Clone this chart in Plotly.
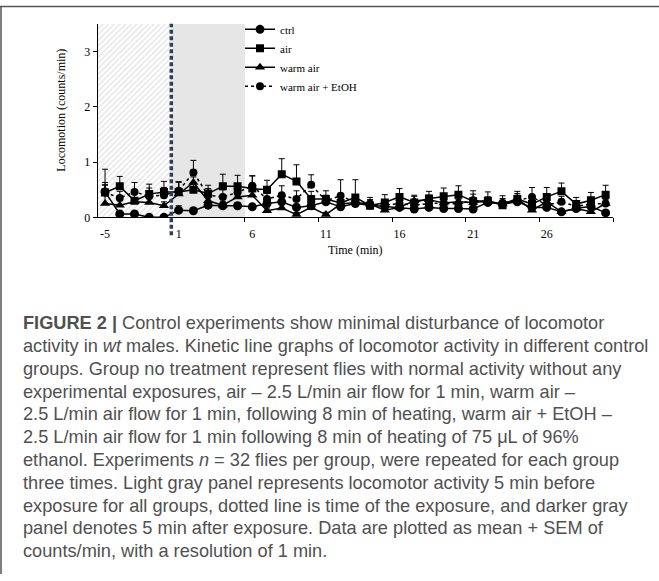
import plotly.graph_objects as go

W, H = 659, 581

# time axis (min); there is no minute 0
minutes = [-5, -4, -3, -2, -1] + list(range(1, 31))

ctrl = [0.46, 0.06, 0.06, 0.00, 0.00, 0.13, 0.12, 0.22, 0.21, 0.21, 0.19, 0.25, 0.28, 0.18, 0.21,
        0.28, 0.19, 0.25, 0.22, 0.20, 0.18, 0.15, 0.18, 0.16, 0.16, 0.15, 0.27, 0.24, 0.28, 0.18,
        0.18, 0.10, 0.16, 0.20, 0.08]
ctrl_sem = [0.17, 0.04, 0.04, 0.02, 0.02, 0.08, 0.05, 0.06, 0.05, 0.05, 0.05, 0.07, 0.08, 0.06, 0.07,
            0.07, 0.06, 0.07, 0.06, 0.06, 0.05, 0.05, 0.06, 0.05, 0.05, 0.05, 0.07, 0.06, 0.07, 0.05,
            0.06, 0.04, 0.05, 0.06, 0.04]

air = [0.45, 0.56, 0.30, 0.42, 0.46, 0.46, 0.50, 0.43, 0.56, 0.56, 0.52, 0.50, 0.78, 0.65, 0.33,
       0.33, 0.26, 0.36, 0.21, 0.27, 0.37, 0.27, 0.34, 0.38, 0.41, 0.29, 0.30, 0.22, 0.33, 0.24,
       0.37, 0.47, 0.24, 0.31, 0.41]
air_sem = [0.42, 0.18, 0.14, 0.18, 0.19, 0.18, 0.10, 0.15, 0.22, 0.20, 0.23, 0.17, 0.28, 0.30, 0.14,
           0.15, 0.14, 0.32, 0.15, 0.14, 0.15, 0.13, 0.13, 0.15, 0.16, 0.13, 0.16, 0.17, 0.14, 0.14,
           0.17, 0.15, 0.12, 0.14, 0.17]

warm_air = [0.25, 0.22, 0.28, 0.27, 0.21, 0.42, 0.63, 0.30, 0.22, 0.37, 0.40, 0.12, 0.17, 0.05, 0.18,
            0.05, 0.24, 0.27, 0.24, 0.13, 0.18, 0.30, 0.32, 0.26, 0.28, 0.27, 0.29, 0.24, 0.34, 0.13,
            0.28, 0.10, 0.16, 0.10, 0.25]
warm_air_sem = [0.33, 0.08, 0.07, 0.08, 0.07, 0.22, 0.10, 0.08, 0.07, 0.09, 0.10, 0.05, 0.06, 0.04, 0.06,
                0.04, 0.07, 0.08, 0.07, 0.05, 0.06, 0.08, 0.08, 0.07, 0.07, 0.07, 0.08, 0.07, 0.09, 0.05,
                0.07, 0.04, 0.05, 0.04, 0.07]

warm_air_etoh = [0.45, 0.35, 0.46, 0.38, 0.40, 0.48, 0.81, 0.40, 0.37, 0.45, 0.57, 0.33, 0.40, 0.33, 0.59,
                 0.30, 0.39, 0.27, 0.24, 0.22, 0.25, 0.22, 0.25, 0.26, 0.24, 0.31, 0.27, 0.26, 0.30, 0.37,
                 0.22, 0.28, 0.20, 0.24, 0.25]
warm_air_etoh_sem = [0.14, 0.12, 0.17, 0.15, 0.14, 0.16, 0.22, 0.12, 0.13, 0.14, 0.18, 0.10, 0.17, 0.15, 0.18,
                     0.10, 0.29, 0.09, 0.08, 0.08, 0.09, 0.08, 0.09, 0.09, 0.08, 0.17, 0.09, 0.08, 0.10, 0.17,
                     0.08, 0.10, 0.07, 0.08, 0.09]

tick_every = 5
before_panel = (-5, -1)   # light hatched panel
after_panel = (1, 5)      # darker gray panel

caption_lines = [
    "<b>FIGURE 2 |</b> Control experiments show minimal disturbance of locomotor",
    "activity in <i>wt</i> males. Kinetic line graphs of locomotor activity in different control",
    "groups. Group no treatment represent flies with normal activity without any",
    "experimental exposures, air \u2013 2.5 L/min air flow for 1 min, warm air \u2013",
    "2.5 L/min air flow for 1 min, following 8 min of heating, warm air + EtOH \u2013",
    "2.5 L/min air flow for 1 min following 8 min of heating of 75 \u03bcL of 96%",
    "ethanol. Experiments <i>n</i> = 32 flies per group, were repeated for each group",
    "three times. Light gray panel represents locomotor activity 5 min before",
    "exposure for all groups, dotted line is time of the exposure, and darker gray",
    "panel denotes 5 min after exposure. Data are plotted as mean + SEM of",
    "counts/min, with a resolution of 1 min.",
]

idx = list(range(len(minutes)))
zeros = [0] * len(idx)

def px_x(p):
    return p / W

def px_y(p):
    return 1 - p / H

fig = go.Figure()

# shaded panels (bars spanning whole categories)
b0, b1 = minutes.index(before_panel[0]), minutes.index(before_panel[1])
a0, a1 = minutes.index(after_panel[0]), minutes.index(after_panel[1])
fig.add_trace(go.Bar(x=[(b0 + b1) / 2], y=[3.5], width=[b1 - b0 + 1], showlegend=False,
                     hoverinfo="skip",
                     marker=dict(color="white", line_width=0,
                                 pattern=dict(shape="/", fgcolor="#c4c4c4", bgcolor="white",
                                              size=4, solidity=0.3))))
fig.add_trace(go.Bar(x=[(a0 + a1) / 2], y=[3.5], width=[a1 - a0 + 1], showlegend=False,
                     hoverinfo="skip", marker=dict(color="#e6e6e6", line_width=0)))

series = [
    ("ctrl", ctrl, ctrl_sem, "circle", "solid", 9),
    ("air", air, air_sem, "square", "solid", 8),
    ("warm air", warm_air, warm_air_sem, "triangle-up", "solid", 9),
    ("warm air + EtOH", warm_air_etoh, warm_air_etoh_sem, "circle", "dot", 8),
]
for name, vals, sem, sym, dash, size in series:
    fig.add_trace(go.Scatter(
        x=idx, y=vals, name=name, mode="lines+markers",
        line=dict(color="black", width=1.5, dash=dash),
        marker=dict(symbol=sym, size=size, color="black"),
        error_y=dict(type="data", symmetric=False, array=sem, arrayminus=zeros,
                     color="black", thickness=1, width=3),
    ))

# exposure time
fig.add_shape(type="line", xref="x", yref="paper", x0=b1 + 0.5, x1=b1 + 0.5,
              y0=px_y(238), y1=px_y(24),
              line=dict(color="#2f3d5a", width=3.5, dash="4px,2.5px"))

# outer frame (top and left)
fig.add_shape(type="line", xref="paper", yref="paper", x0=0, x1=1, y0=px_y(6.5), y1=px_y(6.5),
              line=dict(color="#555555", width=1.5))
fig.add_shape(type="line", xref="paper", yref="paper", x0=px_x(1), x1=px_x(1), y0=0, y1=px_y(6.5),
              line=dict(color="#555555", width=1.5))

serif = "Liberation Serif"
fig.update_layout(
    width=W, height=H, margin=dict(l=0, r=0, t=0, b=0),
    paper_bgcolor="white", plot_bgcolor="white",
    barmode="overlay", bargap=0,
    font=dict(family=serif, size=12, color="black"),
    xaxis=dict(domain=[px_x(97.7), px_x(613)], range=[-0.5, len(idx) - 0.5],
               showline=True, linecolor="black", linewidth=1, showgrid=False, zeroline=False,
               tickmode="array", tickvals=idx[::tick_every],
               ticktext=[str(m) for m in minutes[::tick_every]], ticks="",
               ticklabelstandoff=5,
               minor=dict(tickvals=[i + tick_every - 0.5 for i in idx[::tick_every]],
                          ticks="outside", ticklen=4, tickcolor="black", showgrid=False),
               tickfont=dict(family=serif, size=12)),
    yaxis=dict(domain=[px_y(220), px_y(24)], range=[0, 3.5], showline=True, linecolor="black",
               linewidth=1, showgrid=False, zeroline=False, tickvals=[0, 1, 2, 3],
               ticks="outside", ticklen=4, tickcolor="black",
               tickfont=dict(family=serif, size=12)),
    legend=dict(x=px_x(240), y=px_y(15), xanchor="left", yanchor="top",
                bgcolor="rgba(0,0,0,0)", font=dict(family=serif, size=11),
                tracegroupgap=0, itemwidth=30),
    showlegend=True,
)

fig.add_annotation(text="Locomotion (counts/min)", xref="paper", yref="paper",
                   x=px_x(61), y=px_y(111), xanchor="center", yanchor="middle",
                   showarrow=False, textangle=-90, font=dict(family=serif, size=12))
fig.add_annotation(text="Time (min)", xref="paper", yref="paper",
                   x=px_x(355), y=px_y(253), xanchor="center", yanchor="middle",
                   showarrow=False, font=dict(family=serif, size=12))

for k, line in enumerate(caption_lines):
    fig.add_annotation(text=line, xref="paper", yref="paper", x=px_x(21), y=px_y(327 + 23.1 * k),
                       xanchor="left", yanchor="middle", showarrow=False, align="left",
                       font=dict(family="Liberation Sans", size=18.2, color="#505050"))

fig.write_html("out.html", config={"displayModeBar": False},
               post_script="document.body.style.margin='0px';document.body.style.overflow='hidden';")
